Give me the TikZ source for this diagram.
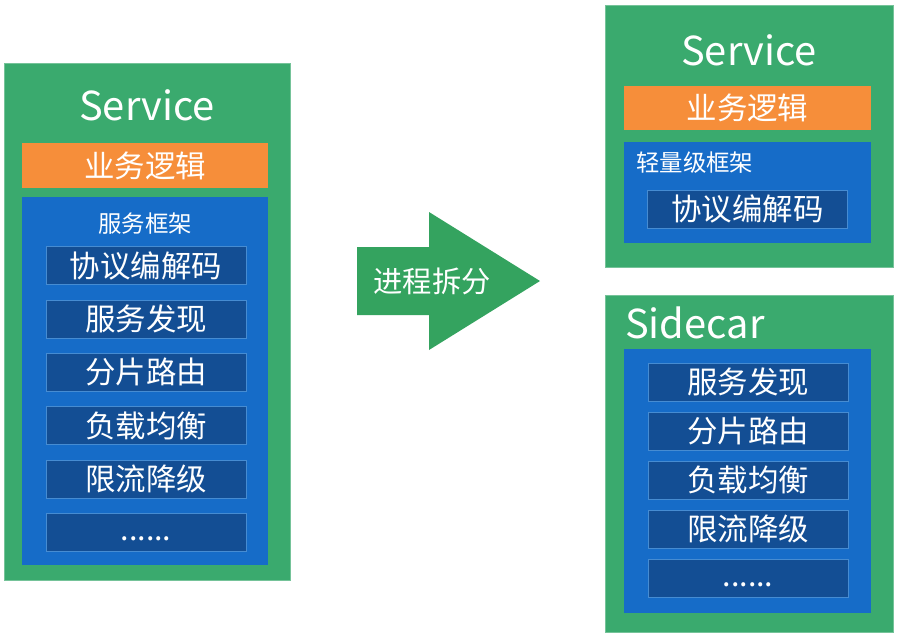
\documentclass[tikz,border=0pt]{standalone}
\usepackage{fontspec}
\setmainfont{Noto Sans CJK SC}
\definecolor{boxgreen}{RGB}{58,170,110}
\definecolor{arrowgreen}{RGB}{52,163,95}
\definecolor{bizorange}{RGB}{246,142,58}
\definecolor{fwblue}{RGB}{22,108,200}
\definecolor{moddark}{RGB}{19,78,148}
\definecolor{modedge}{RGB}{70,140,210}
\newcommand{\moredots}{\raisebox{-7pt}[0pt][0pt]{......}}
\begin{document}
\begin{tikzpicture}[x=0.03cm, y=-0.03cm, every node/.style={text=white,inner sep=0pt},
  proc/.style={fill=boxgreen,draw=boxgreen!70!white,minimum width=#1,minimum height=1cm},
  biz/.style={fill=bizorange,minimum width=7.4cm,minimum height=1.34cm,font=\fontsize{26}{30}\selectfont},
  frame/.style={fill=fwblue,minimum width=7.4cm},
  module/.style={fill=moddark,draw=modedge,line width=0.6pt,minimum width=6cm,minimum height=1.14cm,font=\fontsize{26}{30}\selectfont},
  title/.style={font=\fontsize{34}{40}\selectfont},
  caption/.style={font=\fontsize{20}{24}\selectfont}]
\useasboundingbox (0,0) rectangle (900,642);
% before: one process
\node[proc=8.58cm,minimum height=15.51cm] (svcL) at (147,321.5) {};
\node[title] (svcLtitle) at (147,105) {Service};
\node[biz] (bizL) at (145,165.5) {业务逻辑};
\node[frame,minimum height=11.04cm] (fwL) at (145,381) {};
\node[caption] (fwLtitle) at (145,224) {服务框架};
\foreach \txt [count=\i from 0] in {协议编解码,服务发现,分片路由,负载均衡,限流降级,\moredots}
  \node[module] (modL\i) at (146,265.5+53.4*\i) {\txt};
% split arrow
\fill[arrowgreen] (357,247) -- (429,247) -- (429,212) -- (540,281) -- (429,350) -- (429,315) -- (357,315) -- cycle;
\node[font=\fontsize{25}{30}\selectfont] (split) at (432,281) {进程拆分};
% after: service + sidecar
\node[proc=8.64cm,minimum height=7.86cm] (svcR) at (749,136) {};
\node[title] (svcRtitle) at (749,50) {Service};
\node[biz] (bizR) at (747.5,108) {业务逻辑};
\node[frame,minimum height=3.03cm] (fwR) at (747.5,192.5) {};
\node[caption,anchor=west] (fwRtitle) at (636,163) {轻量级框架};
\node[module] (codec) at (747.5,209) {协议编解码};
\node[proc=8.64cm,minimum height=10.11cm] (sidecar) at (749,463.5) {};
\node[title,anchor=west] (sidecartitle) at (625,323) {Sidecar};
\node[frame,minimum height=7.92cm] (fwS) at (747.5,481) {};
\foreach \txt [count=\i from 0] in {服务发现,分片路由,负载均衡,限流降级,\moredots}
  \node[module] (modS\i) at (748,382+49.1*\i) {\txt};
\end{tikzpicture}
\end{document}
